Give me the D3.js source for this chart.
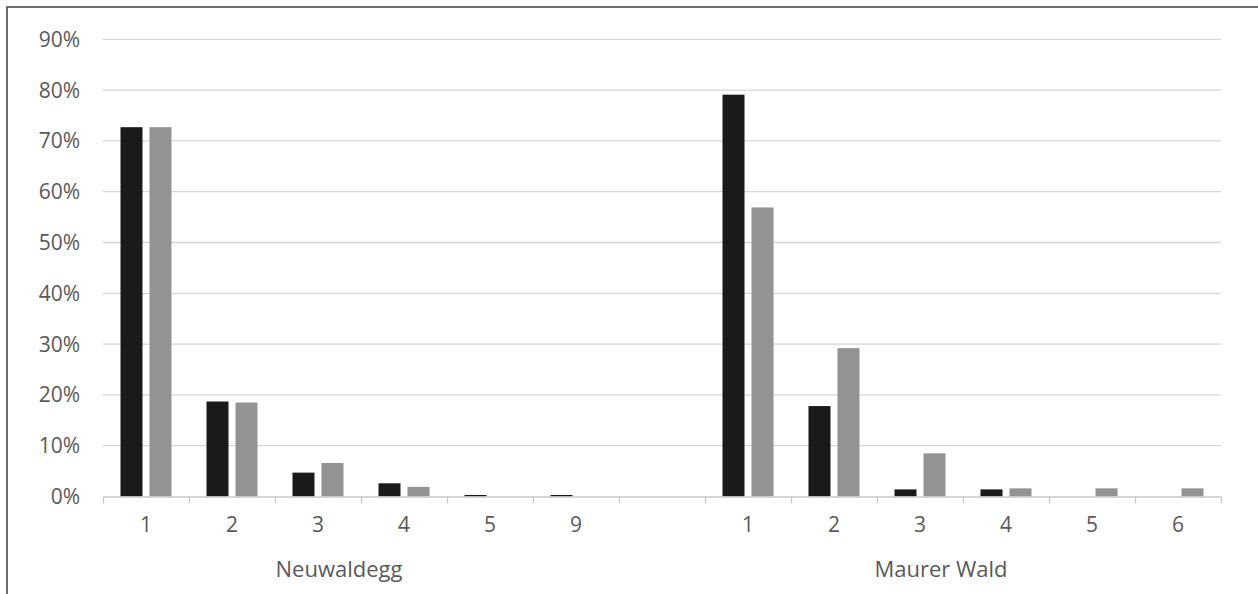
<!DOCTYPE html>
<html>
<head>
<meta charset="utf-8">
<script src="https://cdn.jsdelivr.net/npm/d3@7"></script>
<style>
  html, body { margin: 0; padding: 0; background: #fff; }
  svg { display: block; }
  text { font-family: "Open Sans", sans-serif; fill: #595959; }
</style>
</head>
<body>
<svg id="chart" width="1258" height="594"></svg>
<script>
// ---- data ----
const groups = ["Neuwaldegg", "Maurer Wald"];
const neuwaldeggCats = ["1", "2", "3", "4", "5", "9"];
const maurerCats = ["1", "2", "3", "4", "5", "6"];
const series = ["dark", "light"];
const neuwaldeggDark = [72.7, 18.7, 4.7, 2.6, 0.3, 0.3];
const neuwaldeggLight = [72.7, 18.5, 6.6, 1.9, 0, 0];
const maurerDark = [79.1, 17.8, 1.4, 1.4, 0, 0];
const maurerLight = [56.9, 29.2, 8.5, 1.6, 1.6, 1.6];
const yTicks = [0, 10, 20, 30, 40, 50, 60, 70, 80, 90];

(function () {
// ---- build category list (with blank spacer between groups) ----
const rows = [];
neuwaldeggCats.forEach((c, i) => rows.push({ key: "N" + i, label: c, group: 0, dark: neuwaldeggDark[i], light: neuwaldeggLight[i] }));
rows.push({ key: "gap", label: "", group: -1, dark: null, light: null });
maurerCats.forEach((c, i) => rows.push({ key: "M" + i, label: c, group: 1, dark: maurerDark[i], light: maurerLight[i] }));

const svg = d3.select("#chart");
const pLeft = 103, pRight = 1221, pTop = 39.3, pBottom = 496.5;

const x0 = d3.scaleBand().domain(rows.map(r => r.key)).range([pLeft, pRight]).paddingInner(0).paddingOuter(0);
const bw = x0.bandwidth();
const x1 = d3.scaleBand().domain(series).range([bw * 0.2035, bw * 0.7965]).paddingInner(0.2414).paddingOuter(0);
const y = d3.scaleLinear().domain([0, 90]).range([pBottom, pTop]);
const colors = { dark: "#1a1a1a", light: "#939393" };

// outer border
svg.append("rect").attr("x", 7).attr("y", 7).attr("width", 1300).attr("height", 700)
  .attr("fill", "none").attr("stroke", "#4a4a4a").attr("stroke-width", 1.6);

// gridlines
svg.append("g").selectAll("line").data(yTicks.filter(t => t > 0)).join("line")
  .attr("x1", pLeft).attr("x2", pRight)
  .attr("y1", d => y(d)).attr("y2", d => y(d))
  .attr("stroke", "#d6d6d6").attr("stroke-width", 1.3);

// y labels
svg.append("g").selectAll("text").data(yTicks).join("text")
  .attr("x", 80).attr("y", d => y(d)).attr("dy", "0.36em")
  .attr("text-anchor", "end").attr("font-size", 21)
  .text(d => d + "%");

// bars
const cat = svg.append("g").selectAll("g").data(rows.filter(r => r.group >= 0)).join("g")
  .attr("transform", d => `translate(${x0(d.key)},0)`);
cat.selectAll("rect").data(d => series.map(s => ({ s, v: d[s] })).filter(o => o.v > 0)).join("rect")
  .attr("x", d => x1(d.s)).attr("width", x1.bandwidth())
  .attr("y", d => y(d.v)).attr("height", d => y(0) - y(d.v))
  .attr("fill", d => colors[d.s]);

// x axis line with boundary ticks
const xIdx = d3.scaleLinear().domain([0, rows.length]).range([pLeft, pRight]);
const axis = svg.append("g").attr("transform", `translate(0,${pBottom})`)
  .call(d3.axisBottom(xIdx).tickValues(d3.range(rows.length + 1)).tickSize(7).tickSizeOuter(0).tickFormat(""));
axis.select(".domain").attr("stroke", "#c8c8c8").attr("stroke-width", 1.3);
axis.selectAll(".tick line").attr("stroke", "#c8c8c8").attr("stroke-width", 1.3);

// category labels
svg.append("g").selectAll("text").data(rows).join("text")
  .attr("x", d => x0(d.key) + bw / 2).attr("y", 532)
  .attr("text-anchor", "middle").attr("font-size", 21)
  .text(d => d.label);

// group labels
svg.append("g").selectAll("text").data(groups).join("text")
  .attr("x", (g, gi) => {
    const keys = rows.filter(r => r.group === gi).map(r => r.key);
    return (x0(keys[0]) + x0(keys[keys.length - 1]) + bw) / 2 - 22;
  })
  .attr("y", 577).attr("text-anchor", "middle").attr("font-size", 22)
  .text(d => d);
})();
</script>
</body>
</html>
